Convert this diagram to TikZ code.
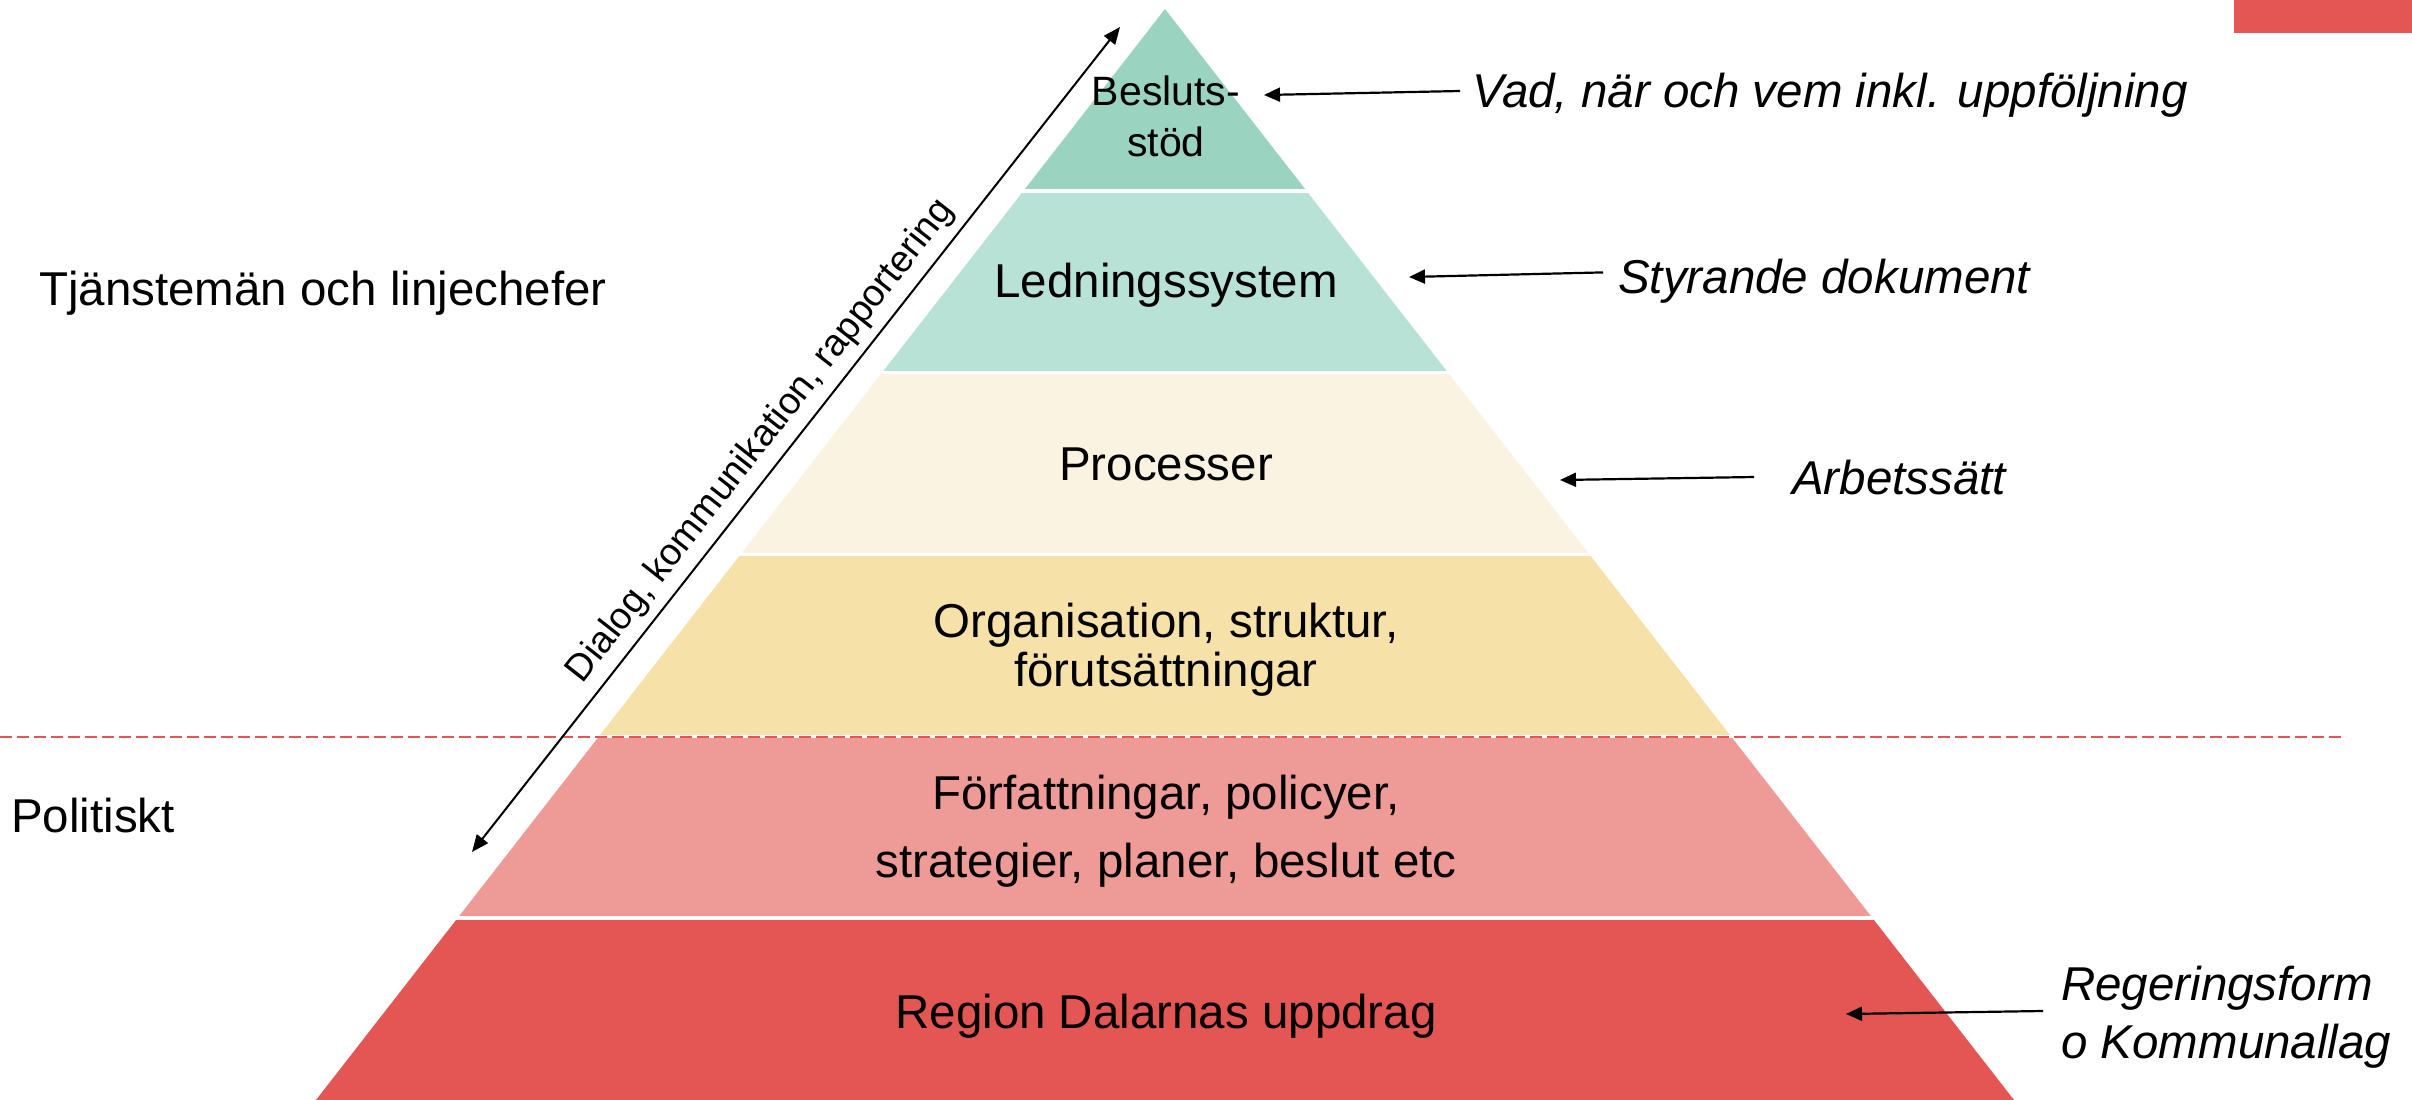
\documentclass[tikz,border=0pt]{standalone}
\usepackage{fontspec}
\setmainfont{Liberation Sans}
\usetikzlibrary{calc,arrows.meta}
\definecolor{bandA}{HTML}{9BD3C1}
\definecolor{bandB}{HTML}{B8E2D6}
\definecolor{bandC}{HTML}{FBF3E1}
\definecolor{bandD}{HTML}{F6E1A9}
\definecolor{bandE}{HTML}{EE9A97}
\definecolor{bandF}{HTML}{E35653}
\newcommand\bandstrut{\rule[-0.22em]{0pt}{0.97em}}
\begin{document}
\begin{tikzpicture}[x=1pt,y=-1pt,
  lbl/.style={inner sep=0pt, font=\fontsize{47.5}{49}\selectfont},
  ital/.style={inner sep=0pt, font=\fontsize{47.5}{58}\selectfont\itshape, align=left},
  arr/.style={-{Triangle[length=16pt,width=14pt]}, line width=2.2pt},
  dbl/.style={{Triangle[length=17pt,width=14pt]}-{Triangle[length=17pt,width=14pt]}, line width=2pt},
  sep/.style={white, line width=3.5pt},
  dashline/.style={bandF, line width=1.5pt, dash pattern=on 12pt off 5pt},
]
\clip (0,0) rectangle (2412,1100);
\fill[white] (0,0) rectangle (2412,1100);
% pyramid
\coordinate (A) at (1165,9);
\coordinate (BL) at (316,1100);
\coordinate (BR) at (2014,1100);
\foreach \c [count=\i] in {bandA,bandB,bandC,bandD,bandE,bandF}{
  \pgfmathsetmacro\ta{(\i-1)/6}
  \pgfmathsetmacro\tb{\i/6}
  \fill[\c] ($(A)!\ta!(BL)$) -- ($(A)!\ta!(BR)$) -- ($(A)!\tb!(BR)$) -- ($(A)!\tb!(BL)$) -- cycle;
}
\foreach \i in {1,...,5}{
  \pgfmathsetmacro\ta{\i/6}
  \draw[sep] ($(A)!\ta!(BL)+(-6,0)$) -- ($(A)!\ta!(BR)+(6,0)$);
}
% top-right tab
\fill[bandF] (2234,0) rectangle (2412,33);
% dashed divider
\coordinate (dashL) at (0,737);
\coordinate (dashR) at (2346,737);
\draw[dashline] (dashL) -- (dashR);
% band texts
\node[lbl, align=center, font=\fontsize{41}{51}\selectfont] (n1) at (1166,120.6) {\bandstrut Besluts-\\\bandstrut stöd};
\node[lbl, anchor=base] (n2) at (1166,297) {\bandstrut Ledningssystem};
\node[lbl, anchor=base] (n3) at (1166,480) {\bandstrut Processer};
\node[lbl, align=center] (n4) at (1166,649.9) {\bandstrut Organisation, struktur,\\\bandstrut förutsättningar};
\node[lbl, align=center, font=\fontsize{47.5}{68}\selectfont] (n5) at (1166,831.4) {\bandstrut Författningar, policyer,\\\bandstrut strategier, planer, beslut etc};
\node[lbl, anchor=base] (n6) at (1166,1028) {\bandstrut Region Dalarnas uppdrag};
% left labels
\node[lbl, anchor=base west] (tj) at (39,305) {Tjänstemän och linjechefer};
\node[lbl, anchor=base west] (pol) at (11,832) {Politiskt};
% right labels
\node[ital, anchor=base west] (vad) at (1472,107) {\bandstrut Vad, när och vem inkl. uppföljning};
\node[ital, anchor=base west] (sty) at (1618,293) {\bandstrut Styrande dokument};
\node[ital, anchor=base west] (arb) at (1792,494) {\bandstrut Arbetssätt};
\node[ital, anchor=west] (reg) at (2061,1016.4) {\bandstrut Regeringsform\\\bandstrut o Kommunallag};
% arrow tips
\coordinate (tv) at (1264,95);
\coordinate (ts) at (1409,277);
\coordinate (ta) at (1560,480);
\coordinate (tr) at (1846,1014);
\draw[arr] ([shift={(-12,-3.4)}]vad.west) -- (tv);
\draw[arr] ([shift={(-15,-8)}]sty.west) -- (ts);
\draw[arr] ([shift={(-38,-4.4)}]arb.west) -- (ta);
\draw[arr] ([shift={(-18,-5.4)}]reg.west) -- (tr);
% diagonal double arrow
\coordinate (dlo) at (472,852);
\coordinate (dhi) at (1120,27);
\draw[dbl] (dlo) -- node[sloped, above, inner sep=8pt, pos=0.478, font=\fontsize{37.5}{40}\selectfont] (dia) {Dialog, kommunikation, rapportering} (dhi);
\end{tikzpicture}
\end{document}
